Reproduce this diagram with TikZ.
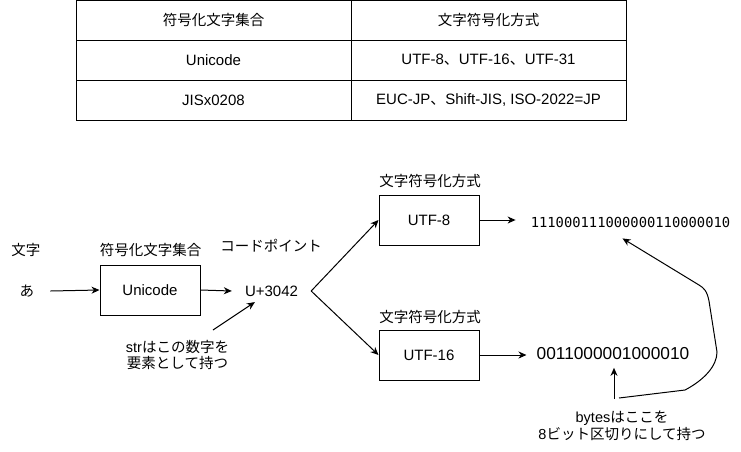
\documentclass[tikz,border=0pt]{standalone}
\usepackage{fontspec}
\setmainfont{Liberation Sans}
\newfontfamily\cjk{Noto Sans CJK JP}
\newfontfamily\bitsfont{DejaVu Sans Mono}
\usetikzlibrary{arrows.meta,calc}
\begin{document}
\begin{tikzpicture}[x=1pt,y=-1pt,
  every node/.style={inner sep=0pt, font=\fontsize{15}{17}\selectfont},
  jp/.style={font=\cjk\fontsize{14.5}{16.5}\selectfont, align=center},
  grid/.style={line width=1pt},
  box/.style={draw, line width=1pt, minimum width=100pt, minimum height=50pt},
  conn/.style={line width=1pt, -{Stealth[length=8pt,width=7pt,inset=2.5pt]}},
  link/.style={line width=1pt}
]
\useasboundingbox (0,0) rectangle (741,451);

% ---- table of character sets and encodings ----
\draw[grid] (76,0.5) rectangle (626,120);
\draw[grid] (76,40) -- (626,40);
\draw[grid] (76,80) -- (626,80);
\draw[grid] (351,0.5) -- (351,120);
\node[jp] (h1) at (213.5,20) {符号化文字集合};
\node[jp] (h2) at (488.5,20) {文字符号化方式};
\node (r1a) at (213.5,60) {Unicode};
\node (r1b) at (488.5,60) {UTF-8{\cjk 、}UTF-16{\cjk 、}UTF-31};
\node (r2a) at (213.5,100) {JISx0208};
\node (r2b) at (488.5,100) {EUC-JP{\cjk 、}Shift-JIS, ISO-2022=JP};

% ---- encoding pipeline ----
\node[jp] (chlab) at (26,250) {文字};
\node[jp, inner xsep=16pt] (ch) at (27,291) {あ};

\node[box] (uni) at (150,290) {Unicode};
\node[jp] (unilab) at (150.5,250) {符号化文字集合};

\node[inner xsep=13pt] (cp) at (271.5,291) {U+3042};
\node[jp] (cplab) at (271,246) {コードポイント};

\node[box] (u8) at (429,220) {UTF-8};
\node[jp] (u8lab) at (430,181) {文字符号化方式};
\node[box] (u16) at (429,355) {UTF-16};
\node[jp] (u16lab) at (430,317) {文字符号化方式};

\node[font=\bitsfont\fontsize{13.8}{16}\selectfont, inner xsep=15pt, inner ysep=11pt]
  (bitsA) at (630.5,222) {111000111000000110000010};
\node[font=\fontsize{17.3}{19}\selectfont, inner xsep=10pt, inner ysep=7.5pt]
  (bitsB) at (613,354) {0011000001000010};

\node[jp] (strnote) at (177.5,355) {{\fontspec{Liberation Sans}str}はこの数字を\\要素として持つ};
\node[jp] (bytesnote) at (622,426) {{\fontspec{Liberation Sans}bytes}はここを\\{\fontspec{Liberation Sans}8}ビット区切りにして持つ};

\coordinate (s0) at (213,330);
\coordinate (b0) at (614,399);
\coordinate (c0) at (619,398);

\draw[conn] (ch.east) -- (uni.west);
\draw[conn] (uni.east) -- (cp.west);
\draw[conn] (cp.east) -- (u8.west);
\draw[conn] (cp.east) -- (u16.west);
\draw[conn] (u8.east) -- (u8.east -| bitsA.west);
\draw[conn] (u16.east) -- (u16.east -| bitsB.west);
\draw[conn, shorten >=10pt] (s0) -- (cp);
\draw[conn] (b0) -- (b0 |- bitsB.south);
\draw[conn] (c0) -- (685,390) .. controls (704,380) and (717,366) .. (717,352)
  -- (709,301) .. controls (707,291) and (704,288) .. (699,285)
  -- ($(bitsA.south)+(-8,0)$);
\end{tikzpicture}
\end{document}
